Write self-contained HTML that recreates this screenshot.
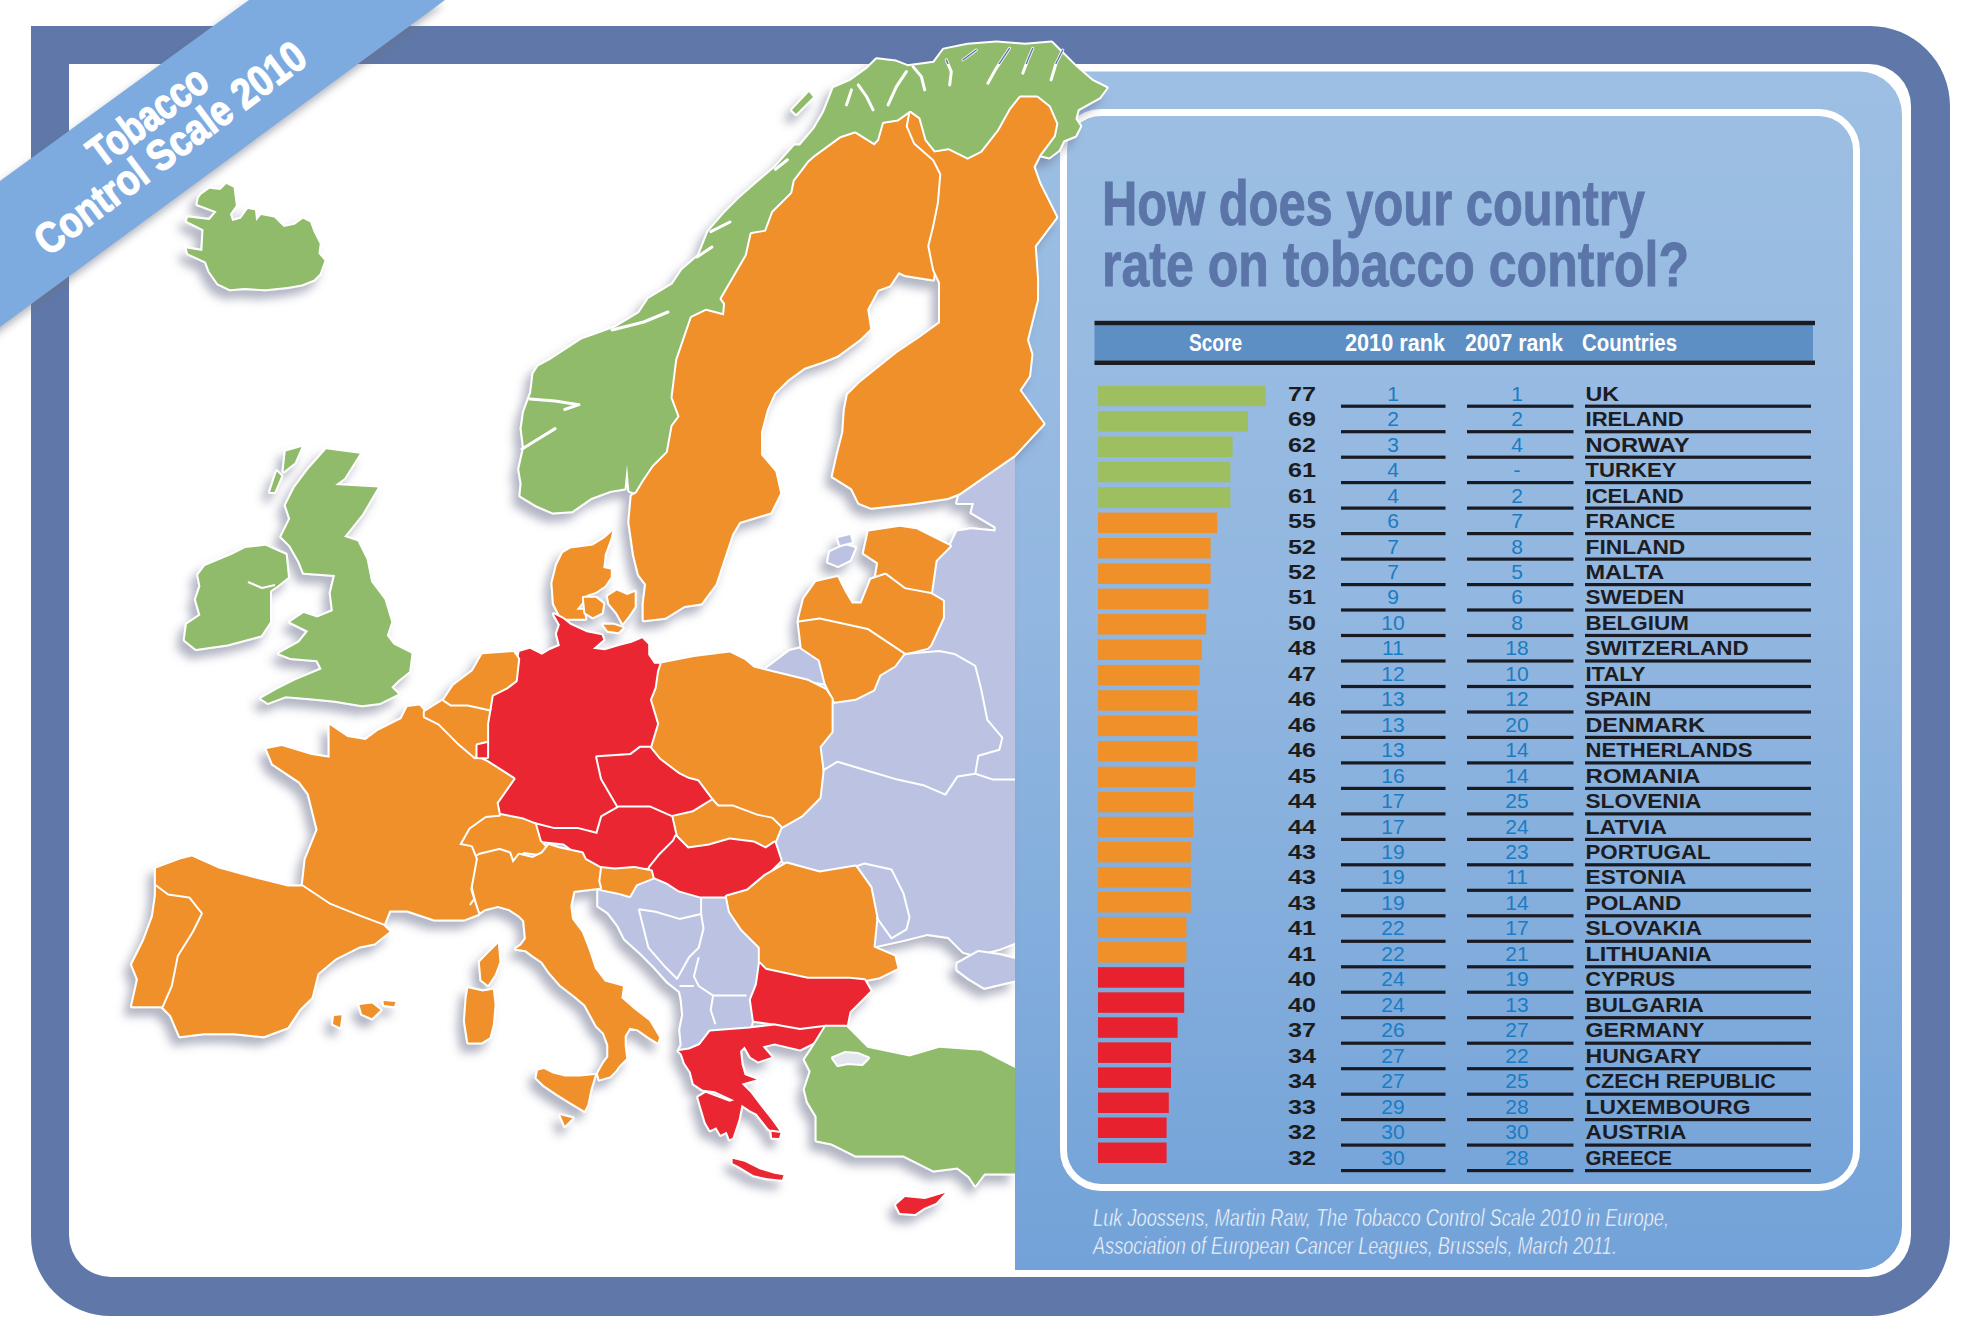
<!DOCTYPE html>
<html><head><meta charset="utf-8"><style>
html,body{margin:0;padding:0;background:#fff;}
svg{display:block;}
text{font-family:"Liberation Sans",sans-serif;}
.sc{font-size:20.5px;font-weight:bold;fill:#1c1c1e;}
.rk{font-size:21px;fill:#1a7cc2;text-anchor:middle;}
.cn{font-size:21px;font-weight:bold;fill:#1c1c22;}
.hd{font-size:23px;font-weight:bold;fill:#fff;}
</style></head><body>
<svg width="1984" height="1336" viewBox="0 0 1984 1336">
<defs>
<linearGradient id="pg" x1="0" y1="0" x2="0" y2="1">
<stop offset="0" stop-color="#9dbfe3"/><stop offset="0.45" stop-color="#92b7e0"/><stop offset="1" stop-color="#72a2d8"/>
</linearGradient>
<filter id="bshadow" x="-20%" y="-20%" width="140%" height="140%"><feGaussianBlur stdDeviation="4"/></filter>
<filter id="mshadow" x="-10%" y="-10%" width="120%" height="120%"><feGaussianBlur in="SourceAlpha" stdDeviation="5"/><feOffset dx="-6" dy="8" result="b"/><feFlood flood-color="#666c88" flood-opacity="0.5"/><feComposite in2="b" operator="in"/><feMerge><feMergeNode/><feMergeNode in="SourceGraphic"/></feMerge></filter>
</defs>
<rect width="1984" height="1336" fill="#fff"/>
<!-- frame -->
<path fill="#5f78a9" fill-rule="evenodd" d="M31,26 H1870 A80,80 0 0 1 1950,106 V1236 A80,80 0 0 1 1870,1316 H111 A80,80 0 0 1 31,1236 Z
M69,64 V1235 A42,42 0 0 0 111,1277 H1869 A42,42 0 0 0 1911,1235 V106 A42,42 0 0 0 1869,64 Z"/>
<!-- panel -->
<path fill="url(#pg)" d="M1015,71.5 H1859 A43,43 0 0 1 1902,114.5 V1227 A43,43 0 0 1 1859,1270 H1015 Z"/>
<path fill="none" stroke="#fff" stroke-width="7" d="M1063.5,150 A37.5,37.5 0 0 1 1101,112.5 H1818.5 A38,38 0 0 1 1856.5,150.5 V1150 A37.5,37.5 0 0 1 1819,1187.5 H1101 A37.5,37.5 0 0 1 1063.5,1150 Z"/>
<defs><clipPath id="cl1015"><rect x="0" y="0" width="1015" height="1336"/></clipPath></defs>
<g filter="url(#mshadow)">
<g stroke="#ffffff" stroke-width="4" stroke-linejoin="round" paint-order="stroke">
<polygon fill="#bcc3e2" clip-path="url(#cl1015)" points="1022.0,452.6 959.6,493.3 957.2,502.9 974.0,502.9 971.6,512.5 995.6,526.8 995.6,531.6 971.6,529.2 957.2,531.6 950.0,546.0 935.7,560.4 933.3,577.1 930.9,593.9 942.9,601.1 942.9,617.8 930.4,645.0 927.4,647.9 903.5,653.9 894.5,665.9 879.5,674.9 873.5,689.8 855.6,698.8 834.6,701.8 831.6,698.8 831.6,731.7 819.6,746.7 822.6,770.7 819.6,797.6 801.7,815.6 780.7,827.5 774.7,842.5 780.7,860.5 786.7,863.5 819.6,872.5 855.6,866.5 870.5,887.4 876.5,917.4 873.5,947.3 876.5,945.9 903.5,939.9 927.4,933.9 948.4,936.9 963.4,951.9 975.3,954.9 999.3,948.9 1022.0,939.9"/>
<polygon fill="#bcc3e2" clip-path="url(#cl1015)" points="957.4,963.8 978.3,951.9 999.3,954.9 1022.0,960.8 1022.0,978.8 984.3,987.8 969.3,978.8 957.4,969.8"/>
<polygon fill="#bcc3e2" points="765.7,668.9 789.7,650.9 801.7,647.9 819.6,659.9 825.6,683.8 807.7,680.8 774.7,671.9"/>
<polygon fill="#bcc3e2" points="830.0,552.0 845.0,545.0 855.0,548.0 850.0,560.0 838.0,566.0 828.0,562.0"/>
<polygon fill="#bcc3e2" points="838.0,538.0 850.0,535.0 852.0,542.0 840.0,545.0"/>
<polygon fill="#bcc3e2" points="601.6,889.4 618.1,892.7 629.6,896.0 636.2,884.5 652.6,877.9 667.5,883.0 678.9,890.4 699.9,896.4 726.8,896.4 729.8,911.4 741.8,929.3 759.8,947.3 759.8,963.8 756.8,984.8 750.6,1000.0 753.6,1015.0 750.6,1027.0 729.6,1029.9 710.1,1031.4 699.7,1044.9 689.2,1049.4 678.7,1050.9 681.7,1044.9 680.2,1029.9 683.2,1015.0 681.7,1000.0 680.0,991.5 667.5,981.6 654.3,966.8 641.1,953.6 624.7,938.8 618.1,925.6 608.2,912.5 598.3,905.9 598.3,891.0"/>
<polygon fill="#8fbb6b" points="198.7,198.3 201.1,194.7 209.5,188.7 220.3,189.9 226.3,184.0 233.5,187.5 235.9,205.5 229.9,213.9 232.3,221.1 240.7,218.7 247.8,209.1 255.0,210.3 256.2,221.1 261.0,215.1 274.2,217.5 283.8,227.1 294.6,224.7 302.9,218.7 310.1,222.3 313.7,231.9 319.7,243.8 318.5,253.4 324.5,260.6 319.7,273.8 313.7,279.8 301.7,284.6 287.4,287.0 265.8,289.3 244.3,288.1 229.9,289.3 217.9,283.4 209.5,271.4 205.9,261.8 188.0,253.4 186.8,248.6 202.3,251.0 203.5,229.5 186.8,221.1 188.0,217.5 209.5,219.9 216.7,211.5 197.5,204.3"/>
<polygon fill="#8fbb6b" points="204.9,565.9 231.9,554.7 245.3,548.0 265.5,545.7 285.7,554.7 288.0,577.2 276.8,586.2 270.0,590.7 270.0,622.1 261.0,635.6 227.4,644.5 195.9,649.0 184.7,640.0 186.9,624.3 200.4,615.3 195.9,599.6 200.4,586.2 198.2,574.9"/>
<polygon fill="#8fbb6b" points="326.2,449.2 359.8,453.7 344.1,478.4 335.1,485.1 377.8,487.4 362.1,514.3 344.1,536.8 357.6,541.3 366.6,559.2 371.1,581.7 384.5,599.6 391.3,622.1 386.8,635.6 393.5,644.5 411.5,653.5 409.2,671.5 398.0,680.5 391.3,687.2 398.0,694.0 380.0,702.9 362.1,705.2 335.1,700.7 312.7,698.4 285.7,696.2 267.8,702.9 261.0,698.4 276.8,689.4 294.7,680.5 321.7,669.2 317.2,660.3 290.2,658.0 279.0,653.5 299.2,642.3 308.2,631.1 290.2,622.1 303.7,613.1 317.2,617.6 332.9,610.9 330.7,592.9 335.1,574.9 303.7,572.7 299.2,561.5 290.2,545.7 281.3,536.8 290.2,518.8 285.7,505.3 294.7,487.4 308.2,469.4"/>
<polygon fill="#8fbb6b" points="285.7,451.4 301.5,446.9 294.7,462.7 283.5,471.6"/>
<polygon fill="#8fbb6b" points="276.8,471.6 281.3,476.1 274.5,491.9 270.0,491.9"/>
<polygon fill="#8fbb6b" points="536.0,505.3 552.7,512.5 571.9,511.3 591.0,498.1 610.2,490.9 624.6,488.5 627.0,464.6 629.3,490.9 636.5,493.3 643.7,481.3 653.3,467.0 667.7,452.6 672.5,426.2 679.6,416.6 672.5,397.5 677.2,360.0 691.6,317.8 706.0,310.7 724.0,315.4 725.1,303.5 721.6,298.7 746.7,255.6 751.5,234.0 765.9,231.6 773.0,212.5 792.2,193.3 794.6,181.3 809.0,162.2 814.4,157.4 840.7,138.2 855.1,133.4 874.3,145.4 879.0,140.6 883.8,123.8 898.2,121.4 910.2,113.0 918.6,119.0 924.6,140.6 934.1,152.6 948.5,150.2 967.7,159.8 982.0,152.6 998.8,131.0 1010.8,109.5 1020.4,97.5 1037.1,97.5 1049.0,107.0 1056.3,123.8 1053.9,135.8 1039.5,155.0 1049.0,157.4 1058.7,150.2 1063.5,140.6 1075.4,135.8 1080.2,126.2 1075.4,119.0 1077.8,109.5 1099.4,97.5 1106.6,87.9 1092.2,80.7 1075.4,66.3 1063.5,54.4 1051.5,42.4 1025.1,44.8 996.4,42.4 967.7,44.8 943.7,49.6 934.0,62.8 907.8,66.3 895.8,61.6 876.6,59.2 867.0,68.7 850.3,80.7 833.5,87.9 824.0,111.9 814.4,128.6 800.0,145.4 794.6,145.4 775.4,167.0 758.7,181.3 739.5,198.0 725.0,212.5 708.4,231.6 698.8,255.6 682.0,270.0 672.5,284.3 648.5,298.7 639.0,313.0 615.0,327.4 581.4,339.4 550.0,360.0 538.3,366.3 533.5,373.5 531.1,392.7 524.0,411.9 521.6,428.6 524.0,447.8 519.2,469.3 521.6,483.7 520.4,495.7"/>
<polygon fill="#8fbb6b" points="792.0,110.0 809.0,92.0 813.0,97.0 796.0,114.0"/>
<polygon fill="#ef9029" points="636.5,493.3 643.7,481.3 653.3,467.0 667.7,452.6 672.5,426.2 679.6,416.6 672.5,397.5 677.2,360.0 691.6,317.8 706.0,310.7 724.0,315.4 725.1,303.5 721.6,298.7 746.7,255.6 751.5,234.0 765.9,231.6 773.0,212.5 792.2,193.3 794.6,181.3 809.0,162.2 814.4,157.4 840.7,138.2 855.1,133.4 874.3,145.4 879.0,140.6 883.8,123.8 898.2,121.4 910.2,113.0 907.8,126.2 915.0,143.0 934.1,159.8 941.3,174.1 938.9,202.9 934.1,226.8 929.3,246.0 934.1,270.0 933.1,279.5 904.7,275.0 898.7,272.0 889.7,285.4 877.7,289.9 867.2,309.4 870.2,328.9 859.8,339.3 837.3,355.8 822.3,361.8 804.4,367.8 787.9,379.8 774.4,393.2 766.9,409.7 761.0,432.2 761.1,455.0 775.4,471.7 780.2,493.3 770.7,512.5 739.5,522.0 732.3,534.0 725.1,555.6 715.6,584.3 701.2,603.5 684.4,605.9 665.3,617.8 643.7,620.2 643.7,603.5 646.1,584.3 638.9,574.7 634.1,555.6 629.3,522.0 631.7,495.7"/>
<polygon fill="#ef9029" points="910.2,113.0 918.6,119.0 924.6,140.6 934.1,152.6 948.5,150.2 967.7,159.8 982.0,152.6 998.8,131.0 1010.8,109.5 1020.4,97.5 1037.1,97.5 1049.0,107.0 1056.3,123.8 1053.9,135.8 1039.5,155.0 1033.5,167.0 1039.5,183.7 1056.3,217.2 1034.7,246.0 1037.1,279.5 1037.0,300.0 1027.0,340.0 1031.5,354.4 1029.1,375.9 1019.5,390.3 1043.5,423.8 1014.7,455.0 959.6,493.3 947.7,498.1 914.1,502.9 871.0,507.7 859.0,502.9 851.9,488.5 832.7,476.5 837.5,455.0 843.3,432.2 844.8,409.7 847.8,394.7 859.8,382.8 874.7,370.8 897.2,352.8 919.6,337.8 940.0,322.9 940.0,282.5 934.1,270.0 929.3,246.0 934.1,226.8 938.9,202.9 941.3,174.1 934.1,159.8 915.0,143.0 907.8,126.2"/>
<polygon fill="#ef9029" points="612.3,531.2 604.8,538.0 592.8,545.4 570.4,548.4 562.9,552.9 556.9,564.9 552.4,582.9 553.9,603.8 559.9,615.8 564.4,618.8 585.3,618.8 583.8,609.8 576.3,609.8 583.8,600.8 586.8,594.9 595.8,591.9 604.8,585.9 610.8,576.9 610.8,569.4 603.3,567.9 604.8,554.4 610.8,538.0"/>
<polygon fill="#ef9029" points="583.8,597.8 595.8,597.8 603.3,603.8 601.8,612.8 592.8,617.3 585.3,612.8"/>
<polygon fill="#ef9029" points="607.8,596.3 616.8,590.4 627.2,594.9 634.7,591.9 634.7,606.8 628.7,615.8 622.8,623.3 616.8,612.8 609.3,603.8"/>
<polygon fill="#ef9029" points="603.3,624.8 613.8,624.8 622.8,627.8 618.3,632.3 607.8,630.8"/>
<polygon fill="#ef9029" points="868.6,531.6 899.8,526.8 916.5,529.2 950.0,546.0 935.7,560.4 933.3,577.1 930.9,593.9 904.6,589.1 885.4,574.7 875.8,577.1 878.2,562.8 863.8,553.2"/>
<polygon fill="#ef9029" points="799.2,617.8 804.0,598.7 815.9,581.9 837.5,577.1 844.7,591.5 851.9,603.5 861.4,603.5 871.0,579.5 885.4,574.7 904.6,589.1 930.9,593.9 942.9,601.1 942.9,617.8 930.4,645.0 927.4,647.9 903.5,653.9 867.5,630.0 819.6,619.5 798.7,622.5"/>
<polygon fill="#ef9029" points="798.7,622.5 801.7,647.9 819.6,659.9 825.6,683.8 834.6,701.8 855.6,698.8 873.5,689.8 879.5,674.9 894.5,665.9 903.5,653.9 867.5,630.0 819.6,619.5"/>
<polygon fill="#ef9029" points="659.5,663.8 693.9,656.9 729.8,652.4 744.8,659.9 753.8,667.4 765.7,670.4 807.7,680.8 825.6,689.8 831.6,698.8 831.6,731.7 819.6,746.7 822.6,770.7 819.6,797.6 801.7,815.6 780.7,827.5 771.7,818.6 756.8,815.6 732.8,806.6 717.8,806.6 712.2,800.4 697.8,781.2 688.3,778.8 678.7,774.0 659.5,759.6 649.9,747.7 657.1,723.7 649.9,699.8 654.7,687.8 657.1,671.0"/>
<polygon fill="#ea2832" points="519.5,651.7 529.9,648.7 541.9,654.7 549.4,650.2 559.9,645.7 556.9,633.8 559.9,624.8 553.9,614.3 562.9,618.8 570.4,624.8 586.8,632.3 601.8,635.3 603.3,639.8 592.8,648.7 604.8,650.2 619.8,645.7 631.7,642.8 642.2,638.3 648.2,644.3 648.2,654.7 654.2,663.7 659.5,663.8 657.1,671.0 654.7,687.8 649.9,699.8 657.1,723.7 649.9,747.7 640.4,747.7 630.8,754.9 597.2,757.2 602.0,778.8 618.8,807.5 602.0,817.1 597.2,833.9 578.1,829.1 554.1,829.1 535.0,824.3 523.0,819.5 499.0,814.7 496.6,802.8 513.4,778.8 487.1,762.0 477.5,757.2 487.1,742.9 487.1,723.7 489.5,709.3 491.9,695.0 506.2,687.8 515.8,680.6 518.2,659.0"/>
<polygon fill="#ea2832" points="597.2,757.2 630.8,754.9 640.4,747.7 649.9,747.7 659.5,759.6 678.7,774.0 688.3,778.8 697.8,781.2 712.2,800.4 693.1,812.3 671.5,817.1 649.9,807.5 618.8,807.5 602.0,778.8"/>
<polygon fill="#ef9029" points="712.2,800.4 717.8,806.6 732.8,806.6 756.8,815.6 771.7,818.6 780.7,827.5 774.7,842.5 765.7,848.5 753.8,842.5 729.8,839.5 708.9,845.5 687.9,848.5 675.9,836.5 671.5,817.1 693.1,812.3"/>
<polygon fill="#ea2832" points="535.0,824.3 554.1,829.1 578.1,829.1 597.2,833.9 602.0,817.1 618.8,807.5 649.9,807.5 671.5,817.1 675.9,836.5 673.9,841.1 659.5,855.4 649.9,867.4 628.4,869.8 602.0,867.4 582.9,857.8 563.7,843.5 539.8,841.1"/>
<polygon fill="#ea2832" points="673.9,841.1 675.9,836.5 687.9,848.5 708.9,845.5 729.8,839.5 753.8,842.5 765.7,848.5 774.7,842.5 780.7,860.5 765.7,875.4 747.8,890.4 726.8,896.4 699.9,896.4 678.9,890.4 667.5,883.0 650.8,875.8 649.9,867.4 659.5,855.4"/>
<polygon fill="#ef9029" points="600.0,868.0 614.8,869.6 634.5,868.0 651.0,871.3 652.6,877.9 636.2,884.5 629.6,896.0 618.1,892.7 601.6,889.4 598.3,881.2"/>
<polygon fill="#ef9029" points="459.2,844.7 468.7,827.9 485.5,815.9 499.0,814.7 523.0,819.5 535.0,824.3 539.8,841.1 547.8,849.5 540.6,854.3 523.8,851.9 511.9,861.4 504.7,851.9 487.9,856.6 475.9,859.0 471.1,847.1"/>
<polygon fill="#ef9029" points="476.5,856.5 479.8,854.8 499.5,849.9 509.4,853.2 512.7,863.0 519.3,854.8 532.5,858.1 542.3,853.2 548.9,845.0 558.8,848.2 581.9,853.2 585.1,859.8 600.0,868.0 598.3,881.2 600.0,887.8 573.6,891.0 570.3,905.9 572.0,919.0 581.9,932.2 588.4,948.7 595.0,968.4 604.9,981.6 623.0,986.5 621.4,998.1 634.5,1009.6 649.4,1021.1 659.2,1037.6 657.6,1042.5 649.4,1037.6 637.8,1029.4 629.6,1027.7 624.7,1036.0 624.7,1045.8 626.3,1058.4 618.8,1065.9 615.8,1070.4 609.8,1076.4 599.4,1079.4 597.9,1073.4 603.8,1062.9 608.3,1056.9 608.3,1044.9 603.8,1032.9 596.7,1026.0 585.1,1004.7 575.3,996.4 560.4,984.9 548.9,971.7 542.3,961.9 532.5,955.3 525.9,950.3 516.0,948.7 520.9,945.4 525.9,938.8 524.2,920.7 519.3,915.7 509.4,909.2 497.9,905.9 484.7,909.2 479.8,912.5 476.5,902.6 473.2,889.4 471.5,872.9"/>
<polygon fill="#ef9029" points="538.0,1070.4 544.0,1068.9 552.9,1073.4 564.9,1076.4 579.9,1076.4 594.9,1074.9 590.4,1089.8 587.4,1104.8 584.4,1110.8 569.4,1101.8 557.4,1094.3 544.0,1085.3 536.5,1077.9"/>
<polygon fill="#ef9029" points="560.4,1115.3 572.4,1118.3 564.9,1125.8"/>
<polygon fill="#ef9029" points="497.9,943.7 499.5,961.9 494.6,975.0 488.0,984.9 481.4,980.0 479.8,961.9 486.3,955.3"/>
<polygon fill="#ef9029" points="468.2,988.2 483.0,991.5 492.9,989.8 494.6,1004.7 492.9,1024.4 489.6,1037.6 481.4,1042.5 468.2,1042.5 464.9,1021.1 466.6,998.1"/>
<polygon fill="#ef9029" points="266.7,748.9 281.7,745.9 311.6,754.9 329.6,757.8 329.6,724.9 347.5,736.9 365.5,739.9 377.5,730.9 401.4,718.9 407.4,706.9 419.4,705.4 424.8,711.7 424.8,716.5 439.2,723.7 458.3,742.9 475.1,757.2 477.5,757.2 487.1,762.0 513.4,778.8 496.6,802.8 499.0,814.7 485.5,815.9 468.7,827.9 459.2,844.7 471.1,847.1 475.9,859.0 470.3,889.6 473.5,899.8 478.3,914.1 464.3,919.5 434.4,919.5 407.4,910.5 389.5,910.5 383.5,925.5 359.5,916.5 329.6,904.6 302.6,886.6 305.6,859.6 317.6,829.7 308.6,793.8 299.6,781.8 272.7,763.8"/>
<polygon fill="#ef9029" points="424.8,711.7 444.0,699.8 451.1,704.6 467.9,704.6 489.5,709.3 487.1,723.7 487.1,742.9 477.5,745.3 475.1,757.2 458.3,742.9 439.2,723.7 424.8,716.5"/>
<polygon fill="#ea2832" points="477.5,745.3 487.1,742.9 487.1,757.2 477.5,757.2"/>
<polygon fill="#ef9029" points="444.0,699.8 453.5,685.4 472.7,671.0 482.3,654.3 513.4,651.9 518.2,659.0 515.8,680.6 506.2,687.8 491.9,695.0 489.5,709.3 467.9,704.6 451.1,704.6"/>
<polygon fill="#ef9029" points="155.9,868.6 179.9,859.6 191.9,856.6 218.8,868.6 251.7,877.6 287.7,886.6 302.6,886.6 329.6,904.6 359.5,916.5 383.5,925.5 389.5,931.5 374.5,943.5 359.5,946.5 335.6,958.4 317.6,973.4 311.6,997.4 299.6,1009.3 287.7,1027.3 263.7,1036.3 233.8,1033.3 203.8,1033.3 179.9,1036.3 170.9,1015.3 161.9,1006.3 170.9,985.4 176.9,955.4 191.9,931.5 200.8,913.5 188.9,898.6 167.9,895.6 155.9,886.6"/>
<polygon fill="#ef9029" points="155.9,886.6 167.9,895.6 188.9,898.6 200.8,913.5 191.9,931.5 176.9,955.4 170.9,985.4 161.9,1006.3 132.0,1006.3 138.0,979.4 132.0,964.4 144.0,940.5 152.9,916.5 155.9,895.6"/>
<polygon fill="#ef9029" points="359.5,1005.0 372.0,1003.4 380.5,1010.0 372.0,1018.3 362.0,1014.0"/>
<polygon fill="#ef9029" points="383.5,1001.0 395.5,1002.0 394.0,1006.3 384.0,1005.0"/>
<polygon fill="#ef9029" points="334.0,1016.0 341.6,1015.3 340.0,1027.3 333.0,1024.0"/>
<polygon fill="#ef9029" points="726.8,896.4 747.8,890.4 765.7,875.4 786.7,863.5 819.6,872.5 855.6,866.5 870.5,887.4 876.5,917.4 873.5,947.3 894.5,956.3 897.5,968.3 879.5,977.2 864.5,980.2 849.6,978.8 807.7,978.8 765.7,969.8 759.8,963.8 759.8,947.3 741.8,929.3 729.8,911.4"/>
<polygon fill="#ea2832" points="759.8,963.8 765.7,969.8 807.7,978.8 849.6,978.8 864.5,980.2 870.5,990.8 861.6,999.8 849.6,1011.7 846.6,1026.7 825.6,1026.7 801.7,1029.7 774.7,1023.7 753.8,1020.7 750.8,999.8 756.8,984.8"/>
<polygon fill="#ea2832" points="678.7,1050.9 689.2,1049.4 699.7,1044.9 710.1,1031.4 729.6,1029.9 749.1,1028.4 774.5,1025.5 800.0,1029.9 826.0,1026.7 819.0,1040.0 800.0,1049.4 774.5,1043.4 762.5,1046.4 771.5,1056.9 758.1,1061.4 750.6,1056.9 744.6,1046.4 740.1,1050.9 741.6,1064.4 744.6,1074.9 756.6,1079.4 741.6,1083.8 750.6,1092.8 759.6,1104.8 771.5,1119.8 779.0,1130.3 777.5,1134.8 768.5,1128.8 756.6,1113.8 750.6,1110.8 741.6,1104.8 738.6,1119.8 732.6,1137.7 729.6,1139.2 726.6,1131.8 720.6,1134.8 716.1,1127.3 710.1,1130.3 705.7,1122.8 701.2,1107.8 698.2,1097.3 705.7,1092.8 729.6,1101.8 734.1,1100.3 714.6,1091.3 702.7,1089.8 693.7,1083.8 690.7,1071.9 684.7,1062.9 681.7,1053.9"/>
<polygon fill="#ea2832" points="732.6,1158.7 744.6,1161.7 759.6,1169.2 774.5,1173.7 783.5,1175.2 782.0,1179.7 767.0,1178.2 753.6,1175.2 738.6,1166.2 732.6,1163.2"/>
<polygon fill="#ea2832" points="896.0,1205.0 905.0,1197.0 925.0,1199.0 945.0,1193.0 936.0,1203.0 924.0,1208.0 915.0,1214.0 900.0,1213.0"/>
<polygon fill="#ea2832" points="771.5,1131.8 780.5,1133.0 779.0,1138.0 772.0,1137.7"/>
<polygon fill="#8fbb6b" clip-path="url(#cl1015)" points="810.7,1050.7 825.6,1026.7 846.6,1026.7 867.5,1047.7 909.5,1056.6 939.4,1047.7 981.3,1050.7 1022.0,1071.6 1022.0,1173.4 984.3,1173.4 975.3,1185.4 969.3,1176.4 957.4,1167.4 933.4,1170.4 903.5,1155.4 879.5,1155.4 855.6,1155.4 831.6,1143.5 816.6,1140.5 816.6,1116.5 807.7,1101.6 804.7,1089.6 810.7,1071.6 804.7,1059.6"/>
<polygon fill="#e4e6ee" points="833.0,1058.0 845.0,1053.0 858.0,1054.0 868.0,1058.0 862.0,1064.0 848.0,1063.0 838.0,1065.0"/>
</g>
<g fill="none" stroke="#ffffff" stroke-width="2" stroke-linejoin="round">
<polyline points="903.5,653.9 939.4,650.9 954.4,653.9 975.3,665.9 981.3,689.8 987.3,719.8 1002.3,737.7 999.3,749.7 978.3,755.7 975.3,773.7 957.4,776.6 945.4,794.6 924.4,785.6 897.5,779.6 867.5,770.7 837.6,761.7 822.6,770.7"/>
<polyline points="975.3,773.7 993.3,779.6 1015.0,779.6"/>
<polyline points="855.6,866.5 864.5,863.5 891.5,869.5 903.5,893.4 909.5,917.4 906.5,929.3 891.5,938.3 876.5,917.4"/>
<polyline points="638.8,909.3 655.6,911.7 679.5,918.9 701.1,914.1 703.5,928.5 698.7,947.7 689.1,957.2 677.1,978.8 665.1,966.8 648.4,947.7 643.6,928.5 638.8,909.3"/>
<polyline points="701.1,897.4 701.1,914.1"/>
<polyline points="698.7,957.2 693.9,976.4 698.7,986.0 713.1,995.6 746.6,995.6"/>
<polyline points="679.5,986.0 693.9,986.0"/>
<polyline points="713.1,995.6 710.7,1010.0 715.4,1024.3"/>
<polyline points="473.5,899.8 470.0,905.0"/>
<polyline points="248.0,582.0 262.0,588.0 275.0,585.0"/>
</g>
<g fill="none" stroke="#ffffff" stroke-width="3" stroke-linecap="round" stroke-linejoin="round">
<polyline points="987.9,83.2 996.2,68.3 1009.5,48.3"/>
<polyline points="1022.8,73.2 1027.8,59.9 1032.8,48.3"/>
<polyline points="1051.1,79.9 1056.1,63.3 1062.8,50.0"/>
<polyline points="949.7,84.9 951.3,71.6 946.3,59.9"/>
<polyline points="924.7,89.9 921.4,76.6 913.0,66.6"/>
<polyline points="888.1,104.9 896.4,86.6 906.4,71.6"/>
<polyline points="873.1,109.8 866.5,96.5 858.2,84.9"/>
<polyline points="846.5,104.9 851.5,89.9"/>
<polyline points="963.0,59.9 976.3,50.0"/>
<polyline points="612.0,330.0 643.7,322.0 668.0,312.0"/>
<polyline points="710.8,231.6 730.0,222.0"/>
<polyline points="775.4,169.3 787.4,159.8"/>
<polyline points="530.0,399.0 555.0,401.0 579.0,404.7 564.7,409.5"/>
<polyline points="522.0,449.0 535.0,441.0 555.1,428.6"/>
<polyline points="697.0,257.0 712.0,247.0"/>
</g>
<defs><clipPath id="clframe"><rect x="0" y="0" width="1984" height="64"/></clipPath></defs>
<g fill="none" stroke="#5f78a9" stroke-width="1.4" stroke-linecap="round" clip-path="url(#clframe)">
<polyline points="987.9,83.2 996.2,68.3 1009.5,48.3"/>
<polyline points="1022.8,73.2 1027.8,59.9 1032.8,48.3"/>
<polyline points="1051.1,79.9 1056.1,63.3 1062.8,50.0"/>
<polyline points="949.7,84.9 951.3,71.6 946.3,59.9"/>
<polyline points="924.7,89.9 921.4,76.6 913.0,66.6"/>
<polyline points="888.1,104.9 896.4,86.6 906.4,71.6"/>
<polyline points="873.1,109.8 866.5,96.5 858.2,84.9"/>
<polyline points="846.5,104.9 851.5,89.9"/>
<polyline points="963.0,59.9 976.3,50.0"/>
</g></g>
<!-- title -->
<text x="1102" y="224.8" font-size="62.5" font-weight="bold" fill="#5b75a9" stroke="#5b75a9" stroke-width="0.9" textLength="543" lengthAdjust="spacingAndGlyphs">How does your country</text>
<text x="1102" y="286.3" font-size="62.5" font-weight="bold" fill="#5b75a9" stroke="#5b75a9" stroke-width="0.9" textLength="587" lengthAdjust="spacingAndGlyphs">rate on tobacco control?</text>
<!-- header -->
<rect x="1094.5" y="325" width="718.5" height="35.5" fill="#5e8fc4"/>
<rect x="1094.5" y="320.8" width="720.5" height="4.4" fill="#1b1b22"/>
<rect x="1094.5" y="360.5" width="720.5" height="4.5" fill="#1b1b22"/>
<text x="1189" y="350.5" class="hd" textLength="53" lengthAdjust="spacingAndGlyphs">Score</text>
<text x="1345" y="350.5" class="hd" textLength="100" lengthAdjust="spacingAndGlyphs">2010 rank</text>
<text x="1465" y="350.5" class="hd" textLength="98" lengthAdjust="spacingAndGlyphs">2007 rank</text>
<text x="1582" y="350.5" class="hd" textLength="95" lengthAdjust="spacingAndGlyphs">Countries</text>
<rect x="1098" y="385.7" width="167.6" height="20.5" fill="#9dbf5f"/>
<text x="1288" y="400.7" class="sc" textLength="28" lengthAdjust="spacingAndGlyphs">77</text>
<text x="1393" y="400.7" class="rk">1</text>
<text x="1517" y="400.7" class="rk">1</text>
<text x="1585.5" y="400.7" class="cn" textLength="33.5" lengthAdjust="spacingAndGlyphs">UK</text>
<rect x="1341" y="404.6" width="104.5" height="3.2" fill="#1a1a22"/>
<rect x="1467" y="404.6" width="106.5" height="3.2" fill="#1a1a22"/>
<rect x="1585" y="404.6" width="226" height="3.2" fill="#1a1a22"/>
<rect x="1098" y="411.1" width="150.0" height="20.5" fill="#9dbf5f"/>
<text x="1288" y="426.2" class="sc" textLength="28" lengthAdjust="spacingAndGlyphs">69</text>
<text x="1393" y="426.2" class="rk">2</text>
<text x="1517" y="426.2" class="rk">2</text>
<text x="1585.5" y="426.2" class="cn" textLength="98.3" lengthAdjust="spacingAndGlyphs">IRELAND</text>
<rect x="1341" y="430.1" width="104.5" height="3.2" fill="#1a1a22"/>
<rect x="1467" y="430.1" width="106.5" height="3.2" fill="#1a1a22"/>
<rect x="1585" y="430.1" width="226" height="3.2" fill="#1a1a22"/>
<rect x="1098" y="436.5" width="134.6" height="20.5" fill="#9dbf5f"/>
<text x="1288" y="451.6" class="sc" textLength="28" lengthAdjust="spacingAndGlyphs">62</text>
<text x="1393" y="451.6" class="rk">3</text>
<text x="1517" y="451.6" class="rk">4</text>
<text x="1585.5" y="451.6" class="cn" textLength="104.1" lengthAdjust="spacingAndGlyphs">NORWAY</text>
<rect x="1341" y="455.6" width="104.5" height="3.2" fill="#1a1a22"/>
<rect x="1467" y="455.6" width="106.5" height="3.2" fill="#1a1a22"/>
<rect x="1585" y="455.6" width="226" height="3.2" fill="#1a1a22"/>
<rect x="1098" y="461.8" width="132.4" height="20.5" fill="#9dbf5f"/>
<text x="1288" y="477.1" class="sc" textLength="28" lengthAdjust="spacingAndGlyphs">61</text>
<text x="1393" y="477.1" class="rk">4</text>
<text x="1517" y="477.1" class="rk">-</text>
<text x="1585.5" y="477.1" class="cn" textLength="91.0" lengthAdjust="spacingAndGlyphs">TURKEY</text>
<rect x="1341" y="481.0" width="104.5" height="3.2" fill="#1a1a22"/>
<rect x="1467" y="481.0" width="106.5" height="3.2" fill="#1a1a22"/>
<rect x="1585" y="481.0" width="226" height="3.2" fill="#1a1a22"/>
<rect x="1098" y="487.2" width="132.4" height="20.5" fill="#9dbf5f"/>
<text x="1288" y="502.5" class="sc" textLength="28" lengthAdjust="spacingAndGlyphs">61</text>
<text x="1393" y="502.5" class="rk">4</text>
<text x="1517" y="502.5" class="rk">2</text>
<text x="1585.5" y="502.5" class="cn" textLength="98.3" lengthAdjust="spacingAndGlyphs">ICELAND</text>
<rect x="1341" y="506.5" width="104.5" height="3.2" fill="#1a1a22"/>
<rect x="1467" y="506.5" width="106.5" height="3.2" fill="#1a1a22"/>
<rect x="1585" y="506.5" width="226" height="3.2" fill="#1a1a22"/>
<rect x="1098" y="512.6" width="119.2" height="20.5" fill="#ef9029"/>
<text x="1288" y="528.0" class="sc" textLength="28" lengthAdjust="spacingAndGlyphs">55</text>
<text x="1393" y="528.0" class="rk">6</text>
<text x="1517" y="528.0" class="rk">7</text>
<text x="1585.5" y="528.0" class="cn" textLength="89.7" lengthAdjust="spacingAndGlyphs">FRANCE</text>
<rect x="1341" y="532.0" width="104.5" height="3.2" fill="#1a1a22"/>
<rect x="1467" y="532.0" width="106.5" height="3.2" fill="#1a1a22"/>
<rect x="1585" y="532.0" width="226" height="3.2" fill="#1a1a22"/>
<rect x="1098" y="538.0" width="112.6" height="20.5" fill="#ef9029"/>
<text x="1288" y="553.5" class="sc" textLength="28" lengthAdjust="spacingAndGlyphs">52</text>
<text x="1393" y="553.5" class="rk">7</text>
<text x="1517" y="553.5" class="rk">8</text>
<text x="1585.5" y="553.5" class="cn" textLength="99.8" lengthAdjust="spacingAndGlyphs">FINLAND</text>
<rect x="1341" y="557.5" width="104.5" height="3.2" fill="#1a1a22"/>
<rect x="1467" y="557.5" width="106.5" height="3.2" fill="#1a1a22"/>
<rect x="1585" y="557.5" width="226" height="3.2" fill="#1a1a22"/>
<rect x="1098" y="563.4" width="112.6" height="20.5" fill="#ef9029"/>
<text x="1288" y="578.9" class="sc" textLength="28" lengthAdjust="spacingAndGlyphs">52</text>
<text x="1393" y="578.9" class="rk">7</text>
<text x="1517" y="578.9" class="rk">5</text>
<text x="1585.5" y="578.9" class="cn" textLength="78.8" lengthAdjust="spacingAndGlyphs">MALTA</text>
<rect x="1341" y="583.0" width="104.5" height="3.2" fill="#1a1a22"/>
<rect x="1467" y="583.0" width="106.5" height="3.2" fill="#1a1a22"/>
<rect x="1585" y="583.0" width="226" height="3.2" fill="#1a1a22"/>
<rect x="1098" y="588.7" width="110.4" height="20.5" fill="#ef9029"/>
<text x="1288" y="604.4" class="sc" textLength="28" lengthAdjust="spacingAndGlyphs">51</text>
<text x="1393" y="604.4" class="rk">9</text>
<text x="1517" y="604.4" class="rk">6</text>
<text x="1585.5" y="604.4" class="cn" textLength="98.9" lengthAdjust="spacingAndGlyphs">SWEDEN</text>
<rect x="1341" y="608.4" width="104.5" height="3.2" fill="#1a1a22"/>
<rect x="1467" y="608.4" width="106.5" height="3.2" fill="#1a1a22"/>
<rect x="1585" y="608.4" width="226" height="3.2" fill="#1a1a22"/>
<rect x="1098" y="614.1" width="108.2" height="20.5" fill="#ef9029"/>
<text x="1288" y="629.8" class="sc" textLength="28" lengthAdjust="spacingAndGlyphs">50</text>
<text x="1393" y="629.8" class="rk">10</text>
<text x="1517" y="629.8" class="rk">8</text>
<text x="1585.5" y="629.8" class="cn" textLength="103.3" lengthAdjust="spacingAndGlyphs">BELGIUM</text>
<rect x="1341" y="633.9" width="104.5" height="3.2" fill="#1a1a22"/>
<rect x="1467" y="633.9" width="106.5" height="3.2" fill="#1a1a22"/>
<rect x="1585" y="633.9" width="226" height="3.2" fill="#1a1a22"/>
<rect x="1098" y="639.5" width="103.8" height="20.5" fill="#ef9029"/>
<text x="1288" y="655.3" class="sc" textLength="28" lengthAdjust="spacingAndGlyphs">48</text>
<text x="1393" y="655.3" class="rk">11</text>
<text x="1517" y="655.3" class="rk">18</text>
<text x="1585.5" y="655.3" class="cn" textLength="163.1" lengthAdjust="spacingAndGlyphs">SWITZERLAND</text>
<rect x="1341" y="659.4" width="104.5" height="3.2" fill="#1a1a22"/>
<rect x="1467" y="659.4" width="106.5" height="3.2" fill="#1a1a22"/>
<rect x="1585" y="659.4" width="226" height="3.2" fill="#1a1a22"/>
<rect x="1098" y="664.9" width="101.6" height="20.5" fill="#ef9029"/>
<text x="1288" y="680.8" class="sc" textLength="28" lengthAdjust="spacingAndGlyphs">47</text>
<text x="1393" y="680.8" class="rk">12</text>
<text x="1517" y="680.8" class="rk">10</text>
<text x="1585.5" y="680.8" class="cn" textLength="59.9" lengthAdjust="spacingAndGlyphs">ITALY</text>
<rect x="1341" y="684.9" width="104.5" height="3.2" fill="#1a1a22"/>
<rect x="1467" y="684.9" width="106.5" height="3.2" fill="#1a1a22"/>
<rect x="1585" y="684.9" width="226" height="3.2" fill="#1a1a22"/>
<rect x="1098" y="690.2" width="99.4" height="20.5" fill="#ef9029"/>
<text x="1288" y="706.2" class="sc" textLength="28" lengthAdjust="spacingAndGlyphs">46</text>
<text x="1393" y="706.2" class="rk">13</text>
<text x="1517" y="706.2" class="rk">12</text>
<text x="1585.5" y="706.2" class="cn" textLength="65.8" lengthAdjust="spacingAndGlyphs">SPAIN</text>
<rect x="1341" y="710.4" width="104.5" height="3.2" fill="#1a1a22"/>
<rect x="1467" y="710.4" width="106.5" height="3.2" fill="#1a1a22"/>
<rect x="1585" y="710.4" width="226" height="3.2" fill="#1a1a22"/>
<rect x="1098" y="715.6" width="99.4" height="20.5" fill="#ef9029"/>
<text x="1288" y="731.7" class="sc" textLength="28" lengthAdjust="spacingAndGlyphs">46</text>
<text x="1393" y="731.7" class="rk">13</text>
<text x="1517" y="731.7" class="rk">20</text>
<text x="1585.5" y="731.7" class="cn" textLength="119.3" lengthAdjust="spacingAndGlyphs">DENMARK</text>
<rect x="1341" y="735.8" width="104.5" height="3.2" fill="#1a1a22"/>
<rect x="1467" y="735.8" width="106.5" height="3.2" fill="#1a1a22"/>
<rect x="1585" y="735.8" width="226" height="3.2" fill="#1a1a22"/>
<rect x="1098" y="741.0" width="99.4" height="20.5" fill="#ef9029"/>
<text x="1288" y="757.1" class="sc" textLength="28" lengthAdjust="spacingAndGlyphs">46</text>
<text x="1393" y="757.1" class="rk">13</text>
<text x="1517" y="757.1" class="rk">14</text>
<text x="1585.5" y="757.1" class="cn" textLength="167.0" lengthAdjust="spacingAndGlyphs">NETHERLANDS</text>
<rect x="1341" y="761.3" width="104.5" height="3.2" fill="#1a1a22"/>
<rect x="1467" y="761.3" width="106.5" height="3.2" fill="#1a1a22"/>
<rect x="1585" y="761.3" width="226" height="3.2" fill="#1a1a22"/>
<rect x="1098" y="766.7" width="97.2" height="20.5" fill="#ef9029"/>
<text x="1288" y="782.6" class="sc" textLength="28" lengthAdjust="spacingAndGlyphs">45</text>
<text x="1393" y="782.6" class="rk">16</text>
<text x="1517" y="782.6" class="rk">14</text>
<text x="1585.5" y="782.6" class="cn" textLength="115.0" lengthAdjust="spacingAndGlyphs">ROMANIA</text>
<rect x="1341" y="786.8" width="104.5" height="3.2" fill="#1a1a22"/>
<rect x="1467" y="786.8" width="106.5" height="3.2" fill="#1a1a22"/>
<rect x="1585" y="786.8" width="226" height="3.2" fill="#1a1a22"/>
<rect x="1098" y="791.8" width="95.0" height="20.5" fill="#ef9029"/>
<text x="1288" y="808.1" class="sc" textLength="28" lengthAdjust="spacingAndGlyphs">44</text>
<text x="1393" y="808.1" class="rk">17</text>
<text x="1517" y="808.1" class="rk">25</text>
<text x="1585.5" y="808.1" class="cn" textLength="115.8" lengthAdjust="spacingAndGlyphs">SLOVENIA</text>
<rect x="1341" y="812.3" width="104.5" height="3.2" fill="#1a1a22"/>
<rect x="1467" y="812.3" width="106.5" height="3.2" fill="#1a1a22"/>
<rect x="1585" y="812.3" width="226" height="3.2" fill="#1a1a22"/>
<rect x="1098" y="816.8" width="95.0" height="20.5" fill="#ef9029"/>
<text x="1288" y="833.5" class="sc" textLength="28" lengthAdjust="spacingAndGlyphs">44</text>
<text x="1393" y="833.5" class="rk">17</text>
<text x="1517" y="833.5" class="rk">24</text>
<text x="1585.5" y="833.5" class="cn" textLength="81.3" lengthAdjust="spacingAndGlyphs">LATVIA</text>
<rect x="1341" y="837.8" width="104.5" height="3.2" fill="#1a1a22"/>
<rect x="1467" y="837.8" width="106.5" height="3.2" fill="#1a1a22"/>
<rect x="1585" y="837.8" width="226" height="3.2" fill="#1a1a22"/>
<rect x="1098" y="841.9" width="92.8" height="20.5" fill="#ef9029"/>
<text x="1288" y="859.0" class="sc" textLength="28" lengthAdjust="spacingAndGlyphs">43</text>
<text x="1393" y="859.0" class="rk">19</text>
<text x="1517" y="859.0" class="rk">23</text>
<text x="1585.5" y="859.0" class="cn" textLength="125.1" lengthAdjust="spacingAndGlyphs">PORTUGAL</text>
<rect x="1341" y="863.2" width="104.5" height="3.2" fill="#1a1a22"/>
<rect x="1467" y="863.2" width="106.5" height="3.2" fill="#1a1a22"/>
<rect x="1585" y="863.2" width="226" height="3.2" fill="#1a1a22"/>
<rect x="1098" y="867.0" width="92.8" height="20.5" fill="#ef9029"/>
<text x="1288" y="884.4" class="sc" textLength="28" lengthAdjust="spacingAndGlyphs">43</text>
<text x="1393" y="884.4" class="rk">19</text>
<text x="1517" y="884.4" class="rk">11</text>
<text x="1585.5" y="884.4" class="cn" textLength="100.8" lengthAdjust="spacingAndGlyphs">ESTONIA</text>
<rect x="1341" y="888.7" width="104.5" height="3.2" fill="#1a1a22"/>
<rect x="1467" y="888.7" width="106.5" height="3.2" fill="#1a1a22"/>
<rect x="1585" y="888.7" width="226" height="3.2" fill="#1a1a22"/>
<rect x="1098" y="892.0" width="92.8" height="20.5" fill="#ef9029"/>
<text x="1288" y="909.9" class="sc" textLength="28" lengthAdjust="spacingAndGlyphs">43</text>
<text x="1393" y="909.9" class="rk">19</text>
<text x="1517" y="909.9" class="rk">14</text>
<text x="1585.5" y="909.9" class="cn" textLength="95.9" lengthAdjust="spacingAndGlyphs">POLAND</text>
<rect x="1341" y="914.2" width="104.5" height="3.2" fill="#1a1a22"/>
<rect x="1467" y="914.2" width="106.5" height="3.2" fill="#1a1a22"/>
<rect x="1585" y="914.2" width="226" height="3.2" fill="#1a1a22"/>
<rect x="1098" y="917.1" width="88.4" height="20.5" fill="#ef9029"/>
<text x="1288" y="935.4" class="sc" textLength="28" lengthAdjust="spacingAndGlyphs">41</text>
<text x="1393" y="935.4" class="rk">22</text>
<text x="1517" y="935.4" class="rk">17</text>
<text x="1585.5" y="935.4" class="cn" textLength="116.4" lengthAdjust="spacingAndGlyphs">SLOVAKIA</text>
<rect x="1341" y="939.7" width="104.5" height="3.2" fill="#1a1a22"/>
<rect x="1467" y="939.7" width="106.5" height="3.2" fill="#1a1a22"/>
<rect x="1585" y="939.7" width="226" height="3.2" fill="#1a1a22"/>
<rect x="1098" y="942.1" width="88.4" height="20.5" fill="#ef9029"/>
<text x="1288" y="960.8" class="sc" textLength="28" lengthAdjust="spacingAndGlyphs">41</text>
<text x="1393" y="960.8" class="rk">22</text>
<text x="1517" y="960.8" class="rk">21</text>
<text x="1585.5" y="960.8" class="cn" textLength="126.1" lengthAdjust="spacingAndGlyphs">LITHUANIA</text>
<rect x="1341" y="965.2" width="104.5" height="3.2" fill="#1a1a22"/>
<rect x="1467" y="965.2" width="106.5" height="3.2" fill="#1a1a22"/>
<rect x="1585" y="965.2" width="226" height="3.2" fill="#1a1a22"/>
<rect x="1098" y="967.2" width="86.2" height="20.5" fill="#e8212f"/>
<text x="1288" y="986.3" class="sc" textLength="28" lengthAdjust="spacingAndGlyphs">40</text>
<text x="1393" y="986.3" class="rk">24</text>
<text x="1517" y="986.3" class="rk">19</text>
<text x="1585.5" y="986.3" class="cn" textLength="89.7" lengthAdjust="spacingAndGlyphs">CYPRUS</text>
<rect x="1341" y="990.6" width="104.5" height="3.2" fill="#1a1a22"/>
<rect x="1467" y="990.6" width="106.5" height="3.2" fill="#1a1a22"/>
<rect x="1585" y="990.6" width="226" height="3.2" fill="#1a1a22"/>
<rect x="1098" y="992.3" width="86.2" height="20.5" fill="#e8212f"/>
<text x="1288" y="1011.7" class="sc" textLength="28" lengthAdjust="spacingAndGlyphs">40</text>
<text x="1393" y="1011.7" class="rk">24</text>
<text x="1517" y="1011.7" class="rk">13</text>
<text x="1585.5" y="1011.7" class="cn" textLength="118.3" lengthAdjust="spacingAndGlyphs">BULGARIA</text>
<rect x="1341" y="1016.1" width="104.5" height="3.2" fill="#1a1a22"/>
<rect x="1467" y="1016.1" width="106.5" height="3.2" fill="#1a1a22"/>
<rect x="1585" y="1016.1" width="226" height="3.2" fill="#1a1a22"/>
<rect x="1098" y="1017.3" width="79.6" height="20.5" fill="#e8212f"/>
<text x="1288" y="1037.2" class="sc" textLength="28" lengthAdjust="spacingAndGlyphs">37</text>
<text x="1393" y="1037.2" class="rk">26</text>
<text x="1517" y="1037.2" class="rk">27</text>
<text x="1585.5" y="1037.2" class="cn" textLength="118.9" lengthAdjust="spacingAndGlyphs">GERMANY</text>
<rect x="1341" y="1041.6" width="104.5" height="3.2" fill="#1a1a22"/>
<rect x="1467" y="1041.6" width="106.5" height="3.2" fill="#1a1a22"/>
<rect x="1585" y="1041.6" width="226" height="3.2" fill="#1a1a22"/>
<rect x="1098" y="1042.4" width="73.0" height="20.5" fill="#e8212f"/>
<text x="1288" y="1062.7" class="sc" textLength="28" lengthAdjust="spacingAndGlyphs">34</text>
<text x="1393" y="1062.7" class="rk">27</text>
<text x="1517" y="1062.7" class="rk">22</text>
<text x="1585.5" y="1062.7" class="cn" textLength="115.8" lengthAdjust="spacingAndGlyphs">HUNGARY</text>
<rect x="1341" y="1067.1" width="104.5" height="3.2" fill="#1a1a22"/>
<rect x="1467" y="1067.1" width="106.5" height="3.2" fill="#1a1a22"/>
<rect x="1585" y="1067.1" width="226" height="3.2" fill="#1a1a22"/>
<rect x="1098" y="1067.4" width="73.0" height="20.5" fill="#e8212f"/>
<text x="1288" y="1088.1" class="sc" textLength="28" lengthAdjust="spacingAndGlyphs">34</text>
<text x="1393" y="1088.1" class="rk">27</text>
<text x="1517" y="1088.1" class="rk">25</text>
<text x="1585.5" y="1088.1" class="cn" textLength="190.3" lengthAdjust="spacingAndGlyphs">CZECH REPUBLIC</text>
<rect x="1341" y="1092.6" width="104.5" height="3.2" fill="#1a1a22"/>
<rect x="1467" y="1092.6" width="106.5" height="3.2" fill="#1a1a22"/>
<rect x="1585" y="1092.6" width="226" height="3.2" fill="#1a1a22"/>
<rect x="1098" y="1092.5" width="70.8" height="20.5" fill="#e8212f"/>
<text x="1288" y="1113.6" class="sc" textLength="28" lengthAdjust="spacingAndGlyphs">33</text>
<text x="1393" y="1113.6" class="rk">29</text>
<text x="1517" y="1113.6" class="rk">28</text>
<text x="1585.5" y="1113.6" class="cn" textLength="165.0" lengthAdjust="spacingAndGlyphs">LUXEMBOURG</text>
<rect x="1341" y="1118.0" width="104.5" height="3.2" fill="#1a1a22"/>
<rect x="1467" y="1118.0" width="106.5" height="3.2" fill="#1a1a22"/>
<rect x="1585" y="1118.0" width="226" height="3.2" fill="#1a1a22"/>
<rect x="1098" y="1117.5" width="68.6" height="20.5" fill="#e8212f"/>
<text x="1288" y="1139.0" class="sc" textLength="28" lengthAdjust="spacingAndGlyphs">32</text>
<text x="1393" y="1139.0" class="rk">30</text>
<text x="1517" y="1139.0" class="rk">30</text>
<text x="1585.5" y="1139.0" class="cn" textLength="100.8" lengthAdjust="spacingAndGlyphs">AUSTRIA</text>
<rect x="1341" y="1143.5" width="104.5" height="3.2" fill="#1a1a22"/>
<rect x="1467" y="1143.5" width="106.5" height="3.2" fill="#1a1a22"/>
<rect x="1585" y="1143.5" width="226" height="3.2" fill="#1a1a22"/>
<rect x="1098" y="1142.5" width="68.6" height="20.5" fill="#e8212f"/>
<text x="1288" y="1164.5" class="sc" textLength="28" lengthAdjust="spacingAndGlyphs">32</text>
<text x="1393" y="1164.5" class="rk">30</text>
<text x="1517" y="1164.5" class="rk">28</text>
<text x="1585.5" y="1164.5" class="cn" textLength="86.5" lengthAdjust="spacingAndGlyphs">GREECE</text>
<rect x="1341" y="1169.0" width="104.5" height="3.2" fill="#1a1a22"/>
<rect x="1467" y="1169.0" width="106.5" height="3.2" fill="#1a1a22"/>
<rect x="1585" y="1169.0" width="226" height="3.2" fill="#1a1a22"/>
<!-- citation -->
<text x="1093" y="1225.5" font-size="23" font-style="italic" fill="#fff" stroke="#79a6da" stroke-width="0.6" textLength="576" lengthAdjust="spacingAndGlyphs">Luk Joossens, Martin Raw, The Tobacco Control Scale 2010  in Europe,</text>
<text x="1093" y="1254" font-size="23" font-style="italic" fill="#fff" stroke="#77a4da" stroke-width="0.6" textLength="524" lengthAdjust="spacingAndGlyphs">Association of European Cancer Leagues, Brussels, March 2011.</text>
<!-- banner -->
<g transform="translate(0,0)">
<polygon points="-20,196 249,0 445,0 -20,342" fill="#6c6f80" opacity="0.55" filter="url(#bshadow)" transform="translate(-2,5)"/>
<polygon points="0,181 249,0 445,0 0,327" fill="#7eabdf"/>
</g>
<g transform="translate(48,257) rotate(-36.6)">
<text x="0" y="0" font-size="43" font-weight="bold" fill="#fff" stroke="#fff" stroke-width="1.4" textLength="326" lengthAdjust="spacingAndGlyphs">Control Scale 2010</text>
<text x="95" y="-39" font-size="43" font-weight="bold" fill="#fff" stroke="#fff" stroke-width="1.4" textLength="138" lengthAdjust="spacingAndGlyphs">Tobacco</text>
</g>
</svg>
</body></html>
